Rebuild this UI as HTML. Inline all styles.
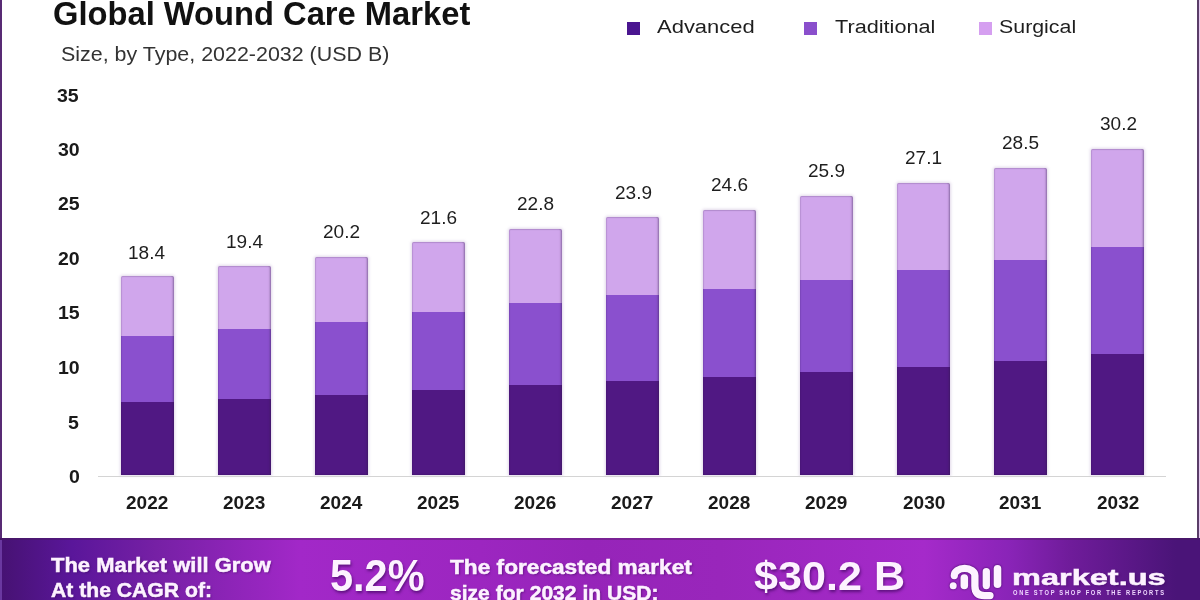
<!DOCTYPE html>
<html><head><meta charset="utf-8"><title>Global Wound Care Market</title><style>
html,body{margin:0;padding:0}
body{width:1200px;height:600px;position:relative;overflow:hidden;background:#fff;font-family:"Liberation Sans",sans-serif}
#txt div{position:absolute;white-space:pre;line-height:1;transform-origin:0 0}
.bar{position:absolute;width:53px;display:flex;flex-direction:column;box-shadow:0 0 3px 1px rgba(150,120,180,.28);border-radius:2px 2px 0 0}
.bar::after{content:"";position:absolute;left:0;top:0;right:0;bottom:0;border-radius:2px 2px 0 0;box-shadow:inset 0 0 1px 0.5px rgba(40,20,70,.25),inset -1.5px 0 1.5px rgba(50,30,70,.25)}
.bar div{width:100%;flex:none}
.bar .s1{border-radius:2px 2px 0 0}
.s1{background:#d0a6ec}
.s2{background:#8a50ce}
.s3{background:#501883}
#bl{position:absolute;left:98px;top:475.8px;width:1068px;height:1.4px;background:#d4d4d4}
#banner{position:absolute;left:0;top:537.8px;width:1200px;height:62.2px;background:linear-gradient(90deg,#461272 0%,#5a169a 6%,#7620a5 13%,#a228c8 25%,#9c26c0 40%,#9624b9 49%,#9926bb 60%,#a52aca 77%,#8a24b8 84%,#701c9b 89%,#4a1478 98%)}
#banner::before{content:"";position:absolute;left:0;top:0;right:0;height:2.2px;background:rgba(70,30,80,.35)}
#lb{position:absolute;left:0;top:0;width:1.9px;height:538px;background:#582a74}
#rb{position:absolute;left:1197px;top:0;width:3px;height:538px;background:linear-gradient(90deg,#5a3d68 0,#5a3d68 75%,#e6c8f0 80%,#e6c8f0 100%)}
.lg{position:absolute;width:13px;height:13px}
.bt{-webkit-text-stroke:0.5px #fdf2ff;text-shadow:1px 1px 2px rgba(50,0,80,.5)}
.bb{text-shadow:1px 2px 3px rgba(50,0,80,.6)}
.mk{-webkit-text-stroke:0.5px #fdf2ff;text-shadow:1px 1px 2px rgba(50,0,80,.45)}
</style></head><body>
<div id="lb"></div><div id="rb"></div>
<div class="lg" style="left:626.5px;top:22px;background:#4a1590"></div>
<div class="lg" style="left:804px;top:22px;background:#8a4fcc"></div>
<div class="lg" style="left:979px;top:22px;background:#d59ff0"></div>
<div class="bar" style="left:120.75px;top:276.44px;height:198.26px"><div class="s1" style="height:59.86px"></div><div class="s2" style="height:66.20px"></div><div class="s3" style="height:72.20px"></div></div>
<div class="bar" style="left:217.80px;top:265.66px;height:209.04px"><div class="s1" style="height:63.14px"></div><div class="s2" style="height:69.80px"></div><div class="s3" style="height:76.10px"></div></div>
<div class="bar" style="left:314.85px;top:257.04px;height:217.66px"><div class="s1" style="height:65.06px"></div><div class="s2" style="height:73.00px"></div><div class="s3" style="height:79.60px"></div></div>
<div class="bar" style="left:411.90px;top:241.96px;height:232.74px"><div class="s1" style="height:70.44px"></div><div class="s2" style="height:77.70px"></div><div class="s3" style="height:84.60px"></div></div>
<div class="bar" style="left:508.95px;top:229.03px;height:245.67px"><div class="s1" style="height:73.97px"></div><div class="s2" style="height:81.60px"></div><div class="s3" style="height:90.10px"></div></div>
<div class="bar" style="left:606.00px;top:217.18px;height:257.52px"><div class="s1" style="height:77.42px"></div><div class="s2" style="height:86.00px"></div><div class="s3" style="height:94.10px"></div></div>
<div class="bar" style="left:703.05px;top:209.63px;height:265.06px"><div class="s1" style="height:78.97px"></div><div class="s2" style="height:88.80px"></div><div class="s3" style="height:97.30px"></div></div>
<div class="bar" style="left:800.10px;top:195.63px;height:279.07px"><div class="s1" style="height:84.37px"></div><div class="s2" style="height:92.20px"></div><div class="s3" style="height:102.50px"></div></div>
<div class="bar" style="left:897.15px;top:182.70px;height:292.00px"><div class="s1" style="height:87.60px"></div><div class="s2" style="height:96.90px"></div><div class="s3" style="height:107.50px"></div></div>
<div class="bar" style="left:994.20px;top:167.61px;height:307.09px"><div class="s1" style="height:91.99px"></div><div class="s2" style="height:101.50px"></div><div class="s3" style="height:113.60px"></div></div>
<div class="bar" style="left:1091.25px;top:149.29px;height:325.41px"><div class="s1" style="height:97.61px"></div><div class="s2" style="height:107.40px"></div><div class="s3" style="height:120.40px"></div></div>
<div id="bl"></div>
<div id="banner"></div>
<div style="position:absolute;left:0;top:540px;width:1.5px;height:60px;background:#6a38a0"></div>
<svg style="position:absolute;left:0;top:0;filter:drop-shadow(0 0 1.2px rgba(40,0,70,.8))" width="1200" height="600">
 <g fill="none" stroke="#fdf2ff" stroke-linecap="round">
  <path d="M954.3 575.5 A10.3 7.2 0 0 1 974.9 575.5 L974.9 586 Q974.9 595.6 984.5 595.6 L990 595.6" stroke-width="7.3"/>
  <line x1="964.3" y1="578" x2="964.3" y2="585.5" stroke-width="7.6"/>
  <line x1="986.3" y1="571.7" x2="986.3" y2="585.6" stroke-width="7.3"/>
  <line x1="997.5" y1="568.8" x2="997.5" y2="584.2" stroke-width="7.6"/>
 </g>
 <circle cx="953.2" cy="585.7" r="3.5" fill="#fdf2ff"/>
</svg>
<div id="txt">
<div style="left:53.25px;top:-2.67px;font-size:33.11px;font-weight:700;color:#111;transform:scaleX(0.9876);letter-spacing:0em">Global Wound Care Market</div>
<div style="left:61.47px;top:42.67px;font-size:21.13px;font-weight:400;color:#333;transform:scaleX(1.0145);letter-spacing:0em">Size, by Type, 2022-2032 (USD B)</div>
<div style="left:657.12px;top:17.65px;font-size:18.24px;font-weight:400;color:#1e1e1e;transform:scaleX(1.2052);letter-spacing:0em">Advanced</div>
<div style="left:834.59px;top:17.65px;font-size:18.24px;font-weight:400;color:#1e1e1e;transform:scaleX(1.1891);letter-spacing:0em">Traditional</div>
<div style="left:998.75px;top:17.51px;font-size:18.24px;font-weight:400;color:#1e1e1e;transform:scaleX(1.1715);letter-spacing:0em">Surgical</div>
<div style="left:68.79px;top:467.55px;font-size:18.60px;font-weight:700;color:#1a1a1a;transform:scaleX(1.0500);letter-spacing:0em">0</div>
<div style="left:68.16px;top:413.65px;font-size:18.60px;font-weight:700;color:#1a1a1a;transform:scaleX(1.0500);letter-spacing:0em">5</div>
<div style="left:58.03px;top:358.80px;font-size:18.60px;font-weight:700;color:#1a1a1a;transform:scaleX(1.0500);letter-spacing:0em">10</div>
<div style="left:57.76px;top:304.10px;font-size:18.60px;font-weight:700;color:#1a1a1a;transform:scaleX(1.0500);letter-spacing:0em">15</div>
<div style="left:57.80px;top:250.06px;font-size:18.60px;font-weight:700;color:#1a1a1a;transform:scaleX(1.0500);letter-spacing:0em">20</div>
<div style="left:57.53px;top:195.28px;font-size:18.60px;font-weight:700;color:#1a1a1a;transform:scaleX(1.0500);letter-spacing:0em">25</div>
<div style="left:57.72px;top:141.31px;font-size:18.60px;font-weight:700;color:#1a1a1a;transform:scaleX(1.0500);letter-spacing:0em">30</div>
<div style="left:57.45px;top:86.53px;font-size:18.60px;font-weight:700;color:#1a1a1a;transform:scaleX(1.0500);letter-spacing:0em">35</div>
<div style="left:125.79px;top:493.37px;font-size:19.20px;font-weight:700;color:#1a1a1a;transform:scaleX(0.9900);letter-spacing:0em">2022</div>
<div style="left:127.87px;top:243.51px;font-size:18.30px;font-weight:400;color:#1e1e1e;transform:scaleX(1.0400);letter-spacing:0em">18.4</div>
<div style="left:222.78px;top:493.37px;font-size:19.20px;font-weight:700;color:#1a1a1a;transform:scaleX(0.9900);letter-spacing:0em">2023</div>
<div style="left:225.60px;top:232.78px;font-size:18.30px;font-weight:400;color:#1e1e1e;transform:scaleX(1.0400);letter-spacing:0em">19.4</div>
<div style="left:320.39px;top:493.37px;font-size:19.20px;font-weight:700;color:#1a1a1a;transform:scaleX(0.9900);letter-spacing:0em">2024</div>
<div style="left:323.30px;top:223.15px;font-size:18.30px;font-weight:400;color:#1e1e1e;transform:scaleX(1.0400);letter-spacing:0em">20.2</div>
<div style="left:416.87px;top:493.37px;font-size:19.20px;font-weight:700;color:#1a1a1a;transform:scaleX(0.9900);letter-spacing:0em">2025</div>
<div style="left:419.94px;top:208.78px;font-size:18.30px;font-weight:400;color:#1e1e1e;transform:scaleX(1.0400);letter-spacing:0em">21.6</div>
<div style="left:514.05px;top:493.37px;font-size:19.20px;font-weight:700;color:#1a1a1a;transform:scaleX(0.9900);letter-spacing:0em">2026</div>
<div style="left:517.40px;top:195.14px;font-size:18.30px;font-weight:400;color:#1e1e1e;transform:scaleX(1.0400);letter-spacing:0em">22.8</div>
<div style="left:611.24px;top:493.37px;font-size:19.20px;font-weight:700;color:#1a1a1a;transform:scaleX(0.9900);letter-spacing:0em">2027</div>
<div style="left:614.84px;top:183.78px;font-size:18.30px;font-weight:400;color:#1e1e1e;transform:scaleX(1.0400);letter-spacing:0em">23.9</div>
<div style="left:708.23px;top:493.37px;font-size:19.20px;font-weight:700;color:#1a1a1a;transform:scaleX(0.9900);letter-spacing:0em">2028</div>
<div style="left:711.21px;top:175.78px;font-size:18.30px;font-weight:400;color:#1e1e1e;transform:scaleX(1.0400);letter-spacing:0em">24.6</div>
<div style="left:805.32px;top:493.37px;font-size:19.20px;font-weight:700;color:#1a1a1a;transform:scaleX(0.9900);letter-spacing:0em">2029</div>
<div style="left:808.48px;top:161.51px;font-size:18.30px;font-weight:400;color:#1e1e1e;transform:scaleX(1.0400);letter-spacing:0em">25.9</div>
<div style="left:902.51px;top:493.37px;font-size:19.20px;font-weight:700;color:#1a1a1a;transform:scaleX(0.9900);letter-spacing:0em">2030</div>
<div style="left:905.31px;top:148.71px;font-size:18.30px;font-weight:400;color:#1e1e1e;transform:scaleX(1.0400);letter-spacing:0em">27.1</div>
<div style="left:999.41px;top:493.37px;font-size:19.20px;font-weight:700;color:#1a1a1a;transform:scaleX(0.9900);letter-spacing:0em">2031</div>
<div style="left:1002.48px;top:134.05px;font-size:18.30px;font-weight:400;color:#1e1e1e;transform:scaleX(1.0400);letter-spacing:0em">28.5</div>
<div style="left:1096.69px;top:493.37px;font-size:19.20px;font-weight:700;color:#1a1a1a;transform:scaleX(0.9900);letter-spacing:0em">2032</div>
<div style="left:1100.26px;top:115.15px;font-size:18.30px;font-weight:400;color:#1e1e1e;transform:scaleX(1.0400);letter-spacing:0em">30.2</div>
<div class="bt" style="left:51.13px;top:554.85px;font-size:20.71px;font-weight:700;color:#fdf2ff;transform:scaleX(1.0619);letter-spacing:0em">The Market will Grow</div>
<div class="bt" style="left:50.59px;top:580.39px;font-size:20.71px;font-weight:700;color:#fdf2ff;transform:scaleX(1.0217);letter-spacing:0em">At the CAGR of:</div>
<div class="bb" style="left:330.22px;top:553.89px;font-size:44.23px;font-weight:700;color:#fdf2ff;transform:scaleX(0.9381);letter-spacing:0em">5.2%</div>
<div class="bt" style="left:450.25px;top:557.25px;font-size:20.14px;font-weight:700;color:#fdf2ff;transform:scaleX(1.1262);letter-spacing:0em">The forecasted market</div>
<div class="bt" style="left:449.76px;top:583.26px;font-size:20.14px;font-weight:700;color:#fdf2ff;transform:scaleX(1.0474);letter-spacing:0em">size for 2032 in USD:</div>
<div class="bb" style="left:753.84px;top:556.45px;font-size:41.27px;font-weight:700;color:#fdf2ff;transform:scaleX(1.0454);letter-spacing:0em">$30.2 B</div>
<div class="mk" style="left:1012.07px;top:566.81px;font-size:21.96px;font-weight:700;color:#fdf2ff;transform:scaleX(1.4817);letter-spacing:0em">market.us</div>
<div style="left:1013.22px;top:589.53px;font-size:7.14px;font-weight:700;color:#f0d8ff;transform:scaleX(0.8019);letter-spacing:0.3em">ONE STOP SHOP FOR THE REPORTS</div>
</div>
</body></html>
